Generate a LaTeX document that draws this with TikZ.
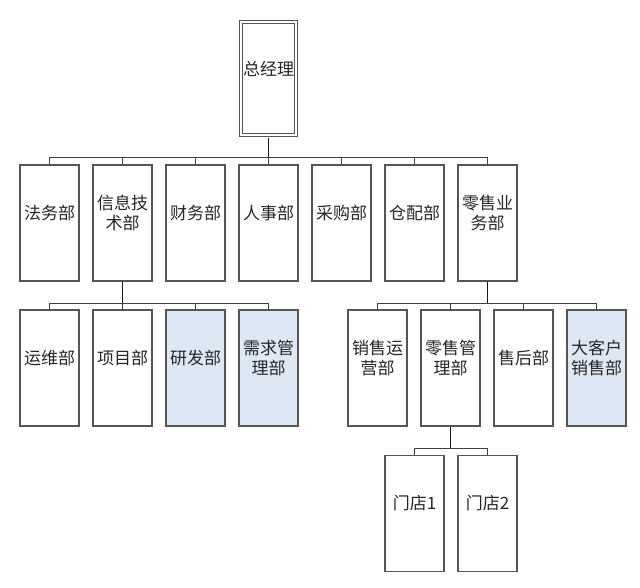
\documentclass[tikz,border=0pt]{standalone}
\usepackage{fontspec}
\setmainfont{Noto Sans CJK SC}
\definecolor{boxgray}{RGB}{85,85,85}
\definecolor{lightblue}{RGB}{222,232,245}
\begin{document}
\begin{tikzpicture}[
    x=1pt, y=-1pt,
    txt/.style={font=\fontsize{17}{19.5}\selectfont, text=black!85, align=center, inner sep=0pt},
    dept/.style={rectangle, draw=boxgray, line width=1.3pt, fill=white, minimum width=59pt, minimum height=116pt, inner sep=0pt, label={[txt, yshift=10pt]center:#1}},
    boss/.style={dept=#1, double, double distance=2pt, line width=1pt, minimum width=55pt, minimum height=113pt},
    trunk/.style={line width=1.5pt, black!90},
    stub/.style={line width=1pt, black!75}
]
    \useasboundingbox (0,0) rectangle (640,587);

    \node[boss=总经理] (zjl) at (268.5, 78.5) {};

    \node[dept=法务部]           (fawu)     at (49.5, 223)  {};
    \node[dept={信息技\\术部}]    (xinxi)    at (122.5, 223) {};
    \node[dept=财务部]           (caiwu)    at (195.5, 223) {};
    \node[dept=人事部]           (renshi)   at (268.5, 223) {};
    \node[dept=采购部]           (caigou)   at (341.5, 223) {};
    \node[dept=仓配部]           (cangpei)  at (414.5, 223) {};
    \node[dept={零售业\\务部}]    (lingshou) at (487.5, 223) {};

    \node[dept=运维部]                          (yunwei)  at (49.5, 368)  {};
    \node[dept=项目部]                          (xiangmu) at (122.5, 368) {};
    \node[dept=研发部, fill=lightblue]          (yanfa)   at (195.5, 368) {};
    \node[dept={需求管\\理部}, fill=lightblue]   (xuqiu)   at (268.5, 368) {};

    \node[dept={销售运\\营部}]                  (xsyy)    at (377.5, 368) {};
    \node[dept={零售管\\理部}]                  (lsgl)    at (450.5, 368) {};
    \node[dept=售后部]                          (shouhou) at (523.5, 368) {};
    \node[dept={大客户\\销售部}, fill=lightblue] (dakehu)  at (596.5, 368) {};

    \node[dept=门店1] (md1) at (414.5, 513.5) {};
    \node[dept=门店2] (md2) at (487.5, 513.5) {};

    % bus points below each parent
    \coordinate (b1) at ([yshift=-22pt]zjl.south);
    \coordinate (b2) at ([yshift=-22pt]xinxi.south);
    \coordinate (b3) at ([yshift=-22pt]lingshou.south);
    \coordinate (b4) at ([yshift=-22pt]lsgl.south);

    \draw[trunk] ([yshift=-2pt]zjl.south) -- (b1);
    \foreach \d in {fawu,xinxi,caiwu,renshi,caigou,cangpei,lingshou}
        \draw[stub] (b1) -| (\d.north);

    \draw[trunk] (xinxi.south) -- (b2);
    \foreach \d in {yunwei,xiangmu,yanfa,xuqiu}
        \draw[stub] (b2) -| (\d.north);

    \draw[trunk] (lingshou.south) -- (b3);
    \foreach \d in {xsyy,lsgl,shouhou,dakehu}
        \draw[stub] (b3) -| (\d.north);

    \draw[trunk] (lsgl.south) -- (b4);
    \foreach \d in {md1,md2}
        \draw[stub] (b4) -| (\d.north);
\end{tikzpicture}
\end{document}
